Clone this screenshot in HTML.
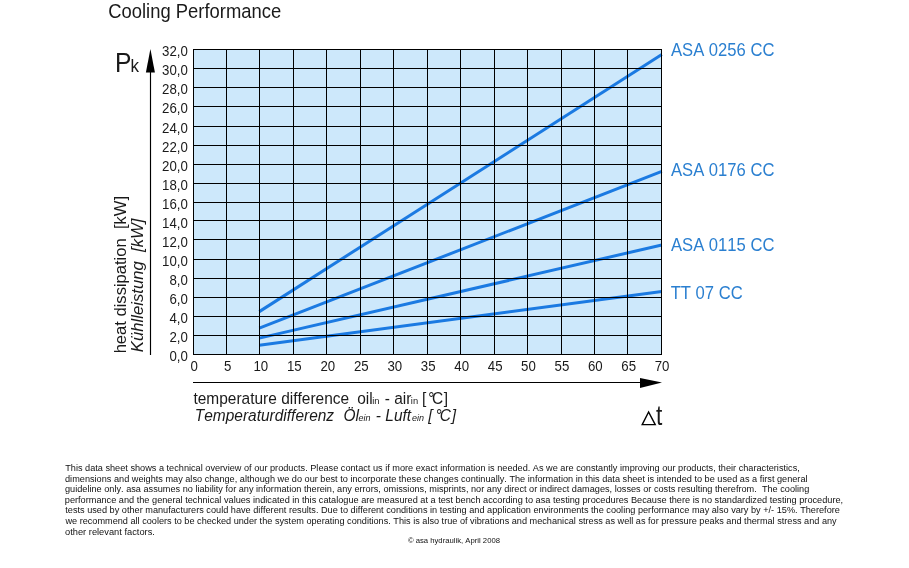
<!DOCTYPE html>
<html><head><meta charset="utf-8"><style>
html,body{margin:0;padding:0;background:#fff;width:909px;height:568px;overflow:hidden}
svg{display:block;will-change:transform;font-family:"Liberation Sans", sans-serif;fill:#1a1a1a;font-kerning:none;font-variant-ligatures:none;white-space:pre}
</style></head><body>
<svg width="909" height="568" viewBox="0 0 909 568">
<rect x="193.0" y="49.0" width="469.0" height="306.0" fill="#cde8fb"/>
<line x1="259.3" y1="311.62" x2="661.8" y2="54.47" stroke="#1b7ae2" stroke-width="3"/>
<line x1="259.3" y1="328.20" x2="661.8" y2="171.32" stroke="#1b7ae2" stroke-width="3"/>
<line x1="259.3" y1="338.12" x2="661.8" y2="245.00" stroke="#1b7ae2" stroke-width="3"/>
<line x1="259.3" y1="345.17" x2="661.8" y2="291.60" stroke="#1b7ae2" stroke-width="3"/>
<path d="M193.5 49.0V355.0M226.5 49.0V355.0M259.5 49.0V355.0M293.5 49.0V355.0M326.5 49.0V355.0M360.5 49.0V355.0M393.5 49.0V355.0M427.5 49.0V355.0M460.5 49.0V355.0M494.5 49.0V355.0M527.5 49.0V355.0M561.5 49.0V355.0M594.5 49.0V355.0M627.5 49.0V355.0M661.5 49.0V355.0M193.0 49.5H662.0M193.0 68.5H662.0M193.0 87.5H662.0M193.0 106.5H662.0M193.0 126.5H662.0M193.0 145.5H662.0M193.0 164.5H662.0M193.0 183.5H662.0M193.0 202.5H662.0M193.0 220.5H662.0M193.0 239.5H662.0M193.0 259.5H662.0M193.0 278.5H662.0M193.0 297.5H662.0M193.0 316.5H662.0M193.0 335.5H662.0M193.0 354.5H662.0" stroke="#000" stroke-width="1" fill="none"/>
<text transform="translate(169.39,361.30) scale(0.94,1)" font-size="14.1">0,0</text>
<text transform="translate(169.39,342.24) scale(0.94,1)" font-size="14.1">2,0</text>
<text transform="translate(169.39,323.18) scale(0.94,1)" font-size="14.1">4,0</text>
<text transform="translate(169.39,304.11) scale(0.94,1)" font-size="14.1">6,0</text>
<text transform="translate(169.39,285.05) scale(0.94,1)" font-size="14.1">8,0</text>
<text transform="translate(162.02,265.99) scale(0.94,1)" font-size="14.1">10,0</text>
<text transform="translate(162.02,246.93) scale(0.94,1)" font-size="14.1">12,0</text>
<text transform="translate(162.02,227.86) scale(0.94,1)" font-size="14.1">14,0</text>
<text transform="translate(162.02,208.80) scale(0.94,1)" font-size="14.1">16,0</text>
<text transform="translate(162.02,189.74) scale(0.94,1)" font-size="14.1">18,0</text>
<text transform="translate(162.02,170.68) scale(0.94,1)" font-size="14.1">20,0</text>
<text transform="translate(162.02,151.61) scale(0.94,1)" font-size="14.1">22,0</text>
<text transform="translate(162.02,132.55) scale(0.94,1)" font-size="14.1">24,0</text>
<text transform="translate(162.02,113.49) scale(0.94,1)" font-size="14.1">26,0</text>
<text transform="translate(162.02,94.42) scale(0.94,1)" font-size="14.1">28,0</text>
<text transform="translate(162.02,75.36) scale(0.94,1)" font-size="14.1">30,0</text>
<text transform="translate(162.02,56.30) scale(0.94,1)" font-size="14.1">32,0</text>
<text transform="translate(190.51,371.25) scale(0.94,1)" font-size="14.1">0</text>
<text transform="translate(223.96,371.25) scale(0.94,1)" font-size="14.1">5</text>
<text transform="translate(253.44,371.25) scale(0.94,1)" font-size="14.1">10</text>
<text transform="translate(286.89,371.25) scale(0.94,1)" font-size="14.1">15</text>
<text transform="translate(320.47,371.25) scale(0.94,1)" font-size="14.1">20</text>
<text transform="translate(353.92,371.25) scale(0.94,1)" font-size="14.1">25</text>
<text transform="translate(387.41,371.25) scale(0.94,1)" font-size="14.1">30</text>
<text transform="translate(420.85,371.25) scale(0.94,1)" font-size="14.1">35</text>
<text transform="translate(454.36,371.25) scale(0.94,1)" font-size="14.1">40</text>
<text transform="translate(487.81,371.25) scale(0.94,1)" font-size="14.1">45</text>
<text transform="translate(521.11,371.25) scale(0.94,1)" font-size="14.1">50</text>
<text transform="translate(554.56,371.25) scale(0.94,1)" font-size="14.1">55</text>
<text transform="translate(587.89,371.25) scale(0.94,1)" font-size="14.1">60</text>
<text transform="translate(621.34,371.25) scale(0.94,1)" font-size="14.1">65</text>
<text transform="translate(654.75,371.25) scale(0.94,1)" font-size="14.1">70</text>
<line x1="150.5" y1="60" x2="150.5" y2="355" stroke="#000" stroke-width="1.15"/>
<polygon points="150.4,49 145.9,72.5 154.9,72.5" fill="#000"/>
<line x1="193" y1="382.5" x2="645" y2="382.5" stroke="#000" stroke-width="1.15"/>
<polygon points="640,378 662,382.5 640,388" fill="#000"/>
<text transform="translate(108.26,18.40) scale(0.9448,1)" font-size="19.5">Cooling Performance</text>
<text transform="translate(114.88,71.50) scale(0.9116,1)" font-size="27.0">P</text>
<text transform="translate(130.45,71.50) scale(0.9631,1)" font-size="17.7">k</text>
<g transform="translate(125.7,352.2) rotate(-90)"><text transform="translate(-1.15,0.00) scale(1.0106,1)" font-size="16.4">heat dissipation &#160;[kW]</text></g>
<g transform="translate(143.1,351.7) rotate(-90)"><text transform="translate(-0.51,0.00) scale(1.0186,1)" font-size="16.4" font-style="italic">Kühlleistung &#160;[kW]</text></g>
<text transform="translate(193.47,403.50) scale(0.91,1)" font-size="17">temperature difference</text>
<text transform="translate(357.25,403.50) scale(0.91,1)" font-size="17">oil</text>
<text transform="translate(372.17,403.50) scale(1.1,1)" font-size="8.5">in</text>
<text transform="translate(384.71,403.50) scale(0.91,1)" font-size="17">-</text>
<text transform="translate(394.24,403.50) scale(0.91,1)" font-size="17">air</text>
<text transform="translate(410.87,403.50) scale(1.1,1)" font-size="8.5">in</text>
<text transform="translate(422.00,403.50) scale(0.91,1)" font-size="17">[</text>
<text transform="translate(428.28,403.50) scale(0.91,1)" font-size="17">°</text>
<text transform="translate(432.11,403.50) scale(0.91,1)" font-size="17">C</text>
<text transform="translate(443.68,403.50) scale(0.91,1)" font-size="17">]</text>
<text transform="translate(194.81,421.20) scale(0.91,1)" font-size="17" font-style="italic">Temperaturdifferenz</text>
<text transform="translate(343.46,421.20) scale(0.91,1)" font-size="17" font-style="italic">Öl</text>
<text transform="translate(358.60,421.20) scale(0.95,1)" font-size="9.5" font-style="italic">ein</text>
<text transform="translate(375.81,421.20) scale(0.91,1)" font-size="17" font-style="italic">-</text>
<text transform="translate(385.32,421.20) scale(0.91,1)" font-size="17" font-style="italic">Luft</text>
<text transform="translate(411.90,421.20) scale(0.95,1)" font-size="9.5" font-style="italic">ein</text>
<text transform="translate(428.29,421.20) scale(0.91,1)" font-size="17" font-style="italic">[</text>
<text transform="translate(435.52,421.20) scale(0.91,1)" font-size="17" font-style="italic">°</text>
<text transform="translate(439.75,421.20) scale(0.91,1)" font-size="17" font-style="italic">C</text>
<text transform="translate(451.78,421.20) scale(0.91,1)" font-size="17" font-style="italic">]</text>
<polygon points="648.6,412 642.2,424.6 655.2,424.6" fill="none" stroke="#000" stroke-width="1.4"/>
<text transform="translate(656.06,424.90) scale(0.8412,1)" font-size="27">t</text>
<text transform="translate(670.97,56.00) scale(0.93,1)" font-size="17.9" fill="#2a7fd0">ASA 0256 CC</text>
<text transform="translate(670.97,176.40) scale(0.93,1)" font-size="17.9" fill="#2a7fd0">ASA 0176 CC</text>
<text transform="translate(670.97,251.00) scale(0.93,1)" font-size="17.9" fill="#2a7fd0">ASA 0115 CC</text>
<text transform="translate(670.63,299.10) scale(0.93,1)" font-size="17.9" fill="#2a7fd0">TT 07 CC</text>
<text transform="translate(65.19,470.90) scale(0.9359,1)" font-size="9.8" fill="#111">This data sheet shows a technical overview of our products. Please contact us if more exact information is needed. As we are constantly improving our products, their characteristics,</text>
<text transform="translate(65.01,481.80) scale(0.9364,1)" font-size="9.8" fill="#111">dimensions and weights may also change, although we do our best to incorporate these changes continually. The information in this data sheet is intended to be used as a first general</text>
<text transform="translate(65.01,492.20) scale(0.9359,1)" font-size="9.8" fill="#111">guideline only. asa assumes no liability for any information therein, any errors, omissions, misprints, nor any direct or indirect damages, losses or costs resulting therefrom. &#160;The cooling</text>
<text transform="translate(64.81,503.20) scale(0.9377,1)" font-size="9.8" fill="#111">performance and the general technical values indicated in this catalogue are measured at a test bench according to asa testing procedures Because there is no standardized testing procedure,</text>
<text transform="translate(65.26,513.40) scale(0.9359,1)" font-size="9.8" fill="#111">tests used by other manufacturers could have different results. Due to different conditions in testing and application environments the cooling performance may also vary by +/- 15%. Therefore</text>
<text transform="translate(65.41,524.30) scale(0.9352,1)" font-size="9.8" fill="#111">we recommend all coolers to be checked under the system operating conditions. This is also true of vibrations and mechanical stress as well as for pressure peaks and thermal stress and any</text>
<text transform="translate(65.01,535.00) scale(0.95,1)" font-size="9.8" fill="#111">other relevant factors.</text>
<text transform="translate(407.88,542.90) scale(1.0024,1)" font-size="7.7" fill="#111">© asa hydraulik, April 2008</text>
</svg>
</body></html>
